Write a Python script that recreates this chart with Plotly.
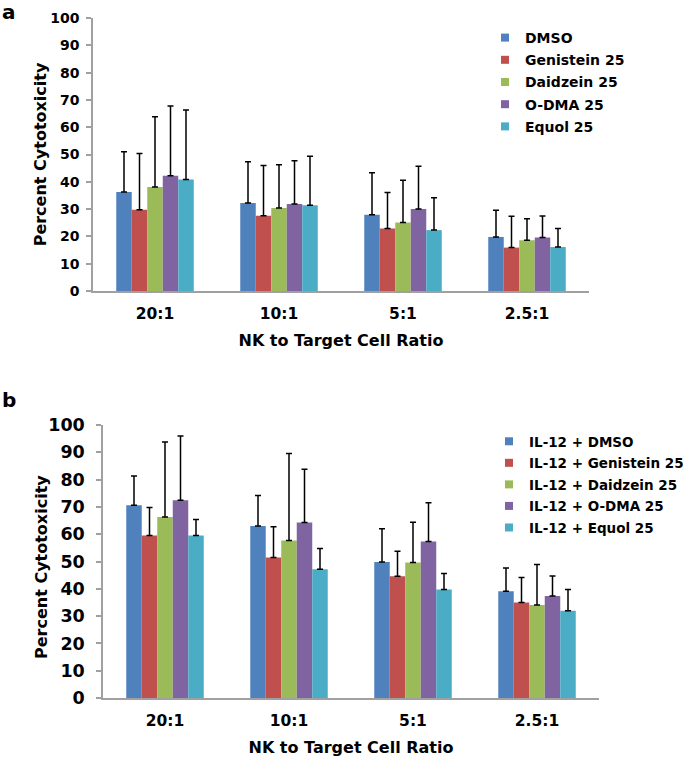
import plotly.graph_objects as go

ratios = ["20:1", "10:1", "5:1", "2.5:1"]

names_a = ["DMSO", "Genistein 25", "Daidzein 25", "O-DMA 25", "Equol 25"]
names_b = ["IL-12 + DMSO", "IL-12 + Genistein 25", "IL-12 + Daidzein 25",
           "IL-12 + O-DMA 25", "IL-12 + Equol 25"]
colors = ["#4F81BD", "#C0504D", "#9BBB59", "#8064A2", "#4BACC6"]

# Panel a: means per treatment across ratios
a_dmso = [36.3, 32.2, 27.9, 19.8]
a_gen = [29.8, 27.6, 22.9, 15.9]
a_daid = [38.1, 30.4, 25.1, 18.6]
a_odma = [42.2, 31.9, 30.0, 19.6]
a_equol = [40.8, 31.4, 22.3, 16.1]
# Panel a: upper error amounts
a_dmso_err = [14.7, 15.1, 15.4, 9.8]
a_gen_err = [20.6, 18.4, 13.2, 11.5]
a_daid_err = [25.7, 15.8, 15.5, 7.9]
a_odma_err = [25.6, 15.8, 15.7, 7.9]
a_equol_err = [25.5, 18.0, 11.9, 6.8]

# Panel b
b_dmso = [70.6, 63.0, 49.8, 39.1]
b_gen = [59.5, 51.5, 44.6, 35.0]
b_daid = [66.3, 57.7, 49.6, 34.1]
b_odma = [72.4, 64.3, 57.3, 37.4]
b_equol = [59.5, 47.2, 39.7, 32.0]
b_dmso_err = [10.7, 11.2, 12.2, 8.5]
b_gen_err = [10.3, 11.2, 9.2, 9.1]
b_daid_err = [27.5, 31.9, 14.8, 14.8]
b_odma_err = [23.6, 19.5, 14.2, 7.3]
b_equol_err = [5.9, 7.6, 5.9, 7.7]

y_ticks = list(range(0, 101, 10))

vals_a = [a_dmso, a_gen, a_daid, a_odma, a_equol]
errs_a = [a_dmso_err, a_gen_err, a_daid_err, a_odma_err, a_equol_err]
vals_b = [b_dmso, b_gen, b_daid, b_odma, b_equol]
errs_b = [b_dmso_err, b_gen_err, b_daid_err, b_odma_err, b_equol_err]

FONT = "DejaVu Sans, sans-serif"

fig = go.Figure()

def add_panel(names, vals, errs, xa, ya, legend, tag):
    for i, (n, v, e, c) in enumerate(zip(names, vals, errs, colors)):
        grp = f"{tag}{i}"
        fig.add_trace(go.Bar(
            x=ratios, y=v, name=n, xaxis=xa, yaxis=ya, legend=legend,
            legendgroup=grp, showlegend=False,
            marker=dict(color=c, line=dict(width=0)),
            error_y=dict(type="data", symmetric=False, array=e,
                         arrayminus=[0] * len(e), color="black",
                         thickness=1.5, width=3),
        ))
        # legend entry with a small square swatch
        fig.add_trace(go.Scatter(
            x=[None], y=[None], name=n, xaxis=xa, yaxis=ya, legend=legend,
            legendgroup=grp, mode="markers", showlegend=True,
            marker=dict(symbol="square", size=8, color=c),
        ))

add_panel(names_a, vals_a, errs_a, "x", "y", "legend", "a")
add_panel(names_b, vals_b, errs_b, "x2", "y2", "legend2", "b")

xtick_font = dict(family=FONT, size=15.5, color="black", weight="bold")
title_font = dict(family=FONT, size=16, color="black", weight="bold")
YTITLE = "Percent Cytotoxicity"

def xaxis_cfg(domain, anchor):
    return dict(domain=domain, anchor=anchor, showline=True, linecolor="#A0A0A0",
                linewidth=1.5, ticks="", ticklabelstandoff=8, automargin=False,
                tickfont=xtick_font, showgrid=False, zeroline=False,
                title=dict(text="NK to Target Cell Ratio", font=title_font, standoff=12))

def yaxis_cfg(domain, anchor, size, standoff, title):
    return dict(domain=domain, anchor=anchor, range=[0, 100], tickvals=y_ticks,
                showline=True, linecolor="#A0A0A0", linewidth=1.5, ticks="outside",
                ticklen=5, tickcolor="#A0A0A0", tickwidth=1.5,
                ticklabelstandoff=standoff, automargin=False,
                tickfont=dict(family=FONT, size=size, color="black", weight="bold"),
                showgrid=False, zeroline=False,
                title=dict(text=title, font=title_font, standoff=0))

fig.update_layout(
    width=685, height=760,
    margin=dict(l=0, r=0, t=0, b=0, autoexpand=False),
    paper_bgcolor="white", plot_bgcolor="white",
    barmode="group", bargap=0.375, bargroupgap=0,
    xaxis=xaxis_cfg([93 / 685, 589 / 685], "y"),
    yaxis=yaxis_cfg([1 - 291 / 760, 1 - 18 / 760], "x", 14, 4, YTITLE),
    xaxis2=xaxis_cfg([103 / 685, 599 / 685], "y2"),
    yaxis2=yaxis_cfg([1 - 698 / 760, 1 - 425 / 760], "x2", 17.5, 8, ""),
    legend=dict(x=485 / 685, xanchor="left", y=1 - 22 / 760, yanchor="top",
                font=dict(family=FONT, size=14, color="black", weight="bold"),
                bgcolor="rgba(0,0,0,0)", tracegroupgap=1, itemwidth=30),
    legend2=dict(x=489 / 685, xanchor="left", y=1 - 426 / 760, yanchor="top",
                 font=dict(family=FONT, size=13.5, color="black", weight="bold"),
                 bgcolor="rgba(0,0,0,0)", tracegroupgap=1, itemwidth=30),
    showlegend=True,
    annotations=[
        dict(text="a", x=0, y=1 + 2 / 760, xref="paper", yref="paper",
             xanchor="left", yanchor="top", showarrow=False,
             font=dict(family=FONT, size=20, color="black", weight="bold")),
        dict(text="b", x=0, y=1 - 386 / 760, xref="paper", yref="paper",
             xanchor="left", yanchor="top", showarrow=False,
             font=dict(family=FONT, size=20, color="black", weight="bold")),
        dict(text=YTITLE, textangle=-90, x=41 / 685, y=1 - 567 / 760,
             xref="paper", yref="paper", xanchor="center", yanchor="middle",
             showarrow=False, font=title_font),
    ],
)

fig.write_html("out.html", config={"displayModeBar": False},
               post_script="document.body.style.margin='0';")
